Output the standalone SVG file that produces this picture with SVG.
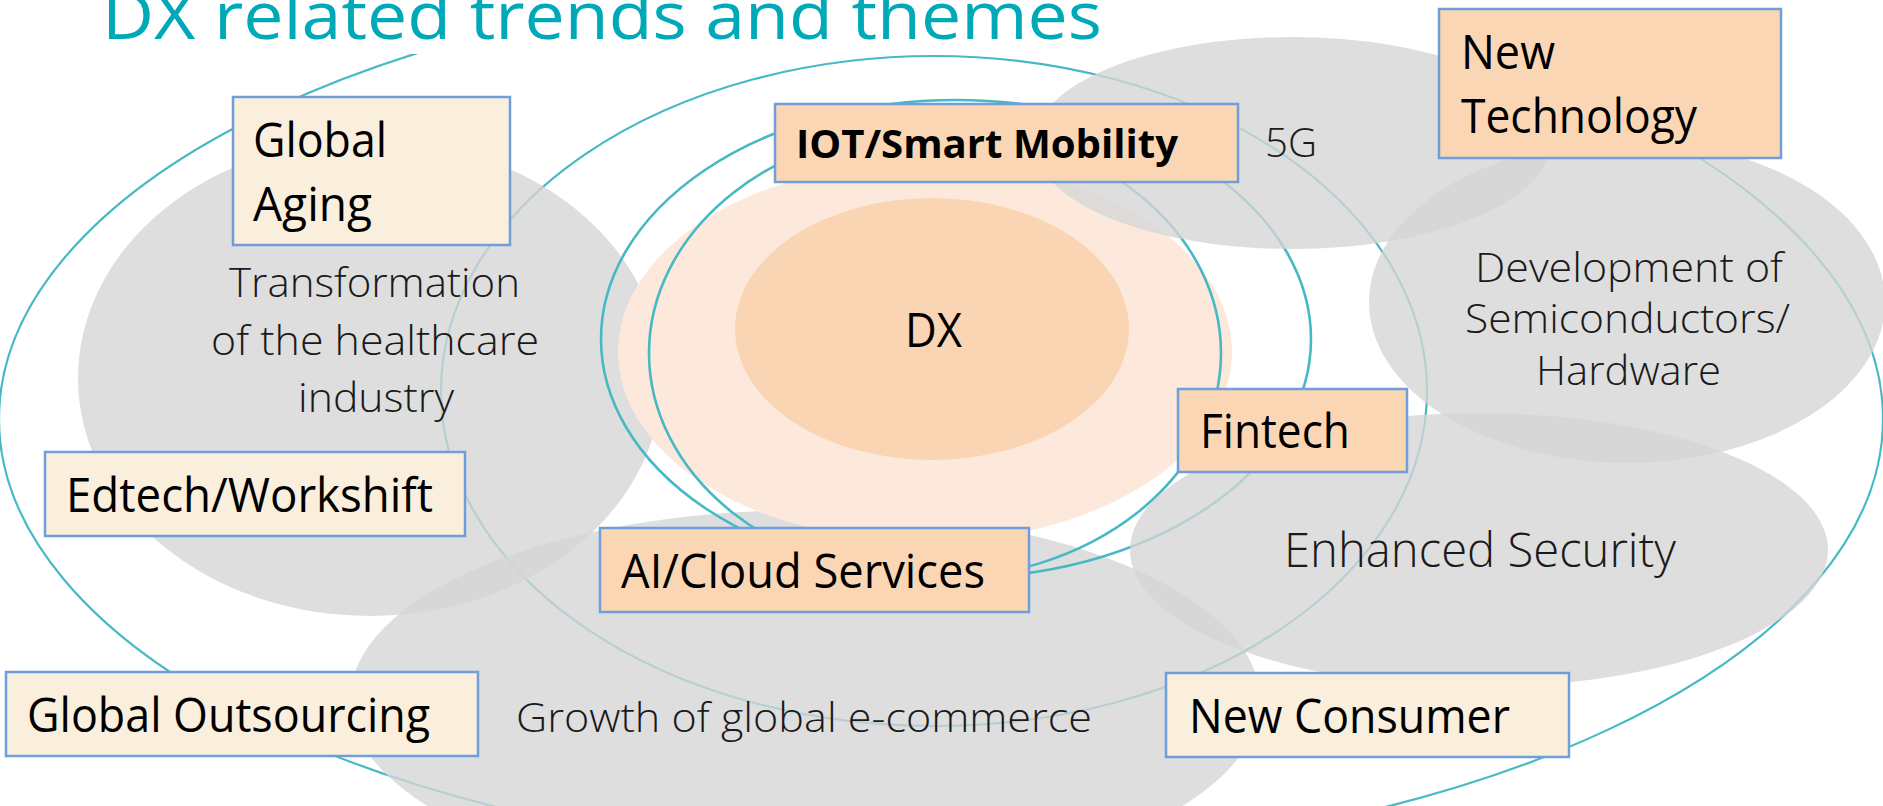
<svg xmlns="http://www.w3.org/2000/svg" width="1883" height="806" viewBox="0 0 1883 806">
  <style>
    .ring { fill: none; stroke: #46B9C4; stroke-width: 2.2; }
    .ring-in { fill: none; stroke: #46B9C4; stroke-width: 2.6; }
    .cloud { fill: #D5D5D5; fill-opacity: 0.79; }
    .box-peach { fill: #FBD6B5; stroke: #6E9FDA; stroke-width: 2.5; }
    .box-beige { fill: #FAEEDC; stroke: #6E9FDA; stroke-width: 2.5; }
    .lbl { font-family: "Open Sans", "Liberation Sans", sans-serif; font-size: 48px; fill: #000; }
    .lbl-b { font-family: "Open Sans", "Liberation Sans", sans-serif; font-size: 40px; font-weight: 700; fill: #000; }
    .lite { font-family: "Open Sans", "Liberation Sans", sans-serif; font-size: 41px; font-weight: 300; fill: #1A1A1A; }
    .title { font-family: "Open Sans", "Liberation Sans", sans-serif; font-size: 66px; fill: #00A9B8; }
  </style>
  <defs>
    <clipPath id="topcut"><rect x="0" y="54" width="1883" height="760"/></clipPath>
  </defs>
  <rect x="0" y="0" width="1883" height="806" fill="#FFFFFF"/>

  <g id="connectors-outer">
    <ellipse class="ring" cx="941" cy="419" rx="942" ry="440" clip-path="url(#topcut)"/>
    <ellipse class="ring" cx="934" cy="391" rx="493" ry="335"/>
  </g>

  <g id="healthcare">
    <ellipse class="cloud" cx="370" cy="378" rx="292" ry="238"/>
    <text class="lite" x="229" y="297" textLength="291" lengthAdjust="spacingAndGlyphs">Transformation</text>
    <text class="lite" x="211" y="355" textLength="328" lengthAdjust="spacingAndGlyphs">of the healthcare</text>
    <text class="lite" x="298" y="412" textLength="156" lengthAdjust="spacingAndGlyphs">industry</text>
  </g>

  <g id="ecommerce">
    <ellipse class="cloud" cx="805" cy="700" rx="455" ry="190"/>
    <text class="lite" x="516" y="732" textLength="576" lengthAdjust="spacingAndGlyphs">Growth of global e-commerce</text>
  </g>

  <g id="dx">
    <ellipse cx="925" cy="352" rx="307" ry="190" fill="#FCE9DB"/>
    <ellipse cx="932" cy="329" rx="197" ry="131" fill="#FAD5B4"/>
    <text class="lbl" x="905" y="347" textLength="57" lengthAdjust="spacingAndGlyphs">DX</text>
  </g>

  <g id="connectors">
    <ellipse class="ring-in" cx="956" cy="339" rx="355" ry="239"/>
    <ellipse class="ring-in" cx="935" cy="353" rx="286" ry="226"/>
  </g>

  <g id="fiveg">
    <ellipse class="cloud" cx="1292" cy="143" rx="258" ry="106"/>
    <text class="lite" x="1265" y="157" textLength="52" lengthAdjust="spacingAndGlyphs">5G</text>
  </g>

  <g id="semiconductors">
    <ellipse class="cloud" cx="1627" cy="302" rx="258" ry="161"/>
    <text class="lite" x="1475" y="282" textLength="308" lengthAdjust="spacingAndGlyphs">Development of</text>
    <text class="lite" x="1465" y="333" textLength="325" lengthAdjust="spacingAndGlyphs">Semiconductors/</text>
    <text class="lite" x="1536" y="385" textLength="185" lengthAdjust="spacingAndGlyphs">Hardware</text>
  </g>

  <g id="security">
    <ellipse class="cloud" cx="1479" cy="550" rx="349" ry="137"/>
    <text class="lite" x="1284" y="567" style="font-size:48px" textLength="392" lengthAdjust="spacingAndGlyphs">Enhanced Security</text>
  </g>

  <g id="global-aging">
    <rect class="box-beige" x="233" y="97" width="277" height="148"/>
    <text class="lbl" x="253" y="157" textLength="134" lengthAdjust="spacingAndGlyphs">Global</text>
    <text class="lbl" x="253" y="221" textLength="119" lengthAdjust="spacingAndGlyphs">Aging</text>
  </g>

  <g id="iot">
    <rect class="box-peach" x="775" y="104" width="463" height="78"/>
    <text class="lbl-b" x="796" y="158" textLength="382" lengthAdjust="spacingAndGlyphs">IOT/Smart Mobility</text>
  </g>

  <g id="new-technology">
    <rect class="box-peach" x="1439" y="9" width="342" height="149"/>
    <text class="lbl" x="1461" y="69" textLength="94" lengthAdjust="spacingAndGlyphs">New</text>
    <text class="lbl" x="1461" y="133" textLength="236" lengthAdjust="spacingAndGlyphs">Technology</text>
  </g>

  <g id="fintech">
    <rect class="box-peach" x="1178" y="389" width="229" height="83"/>
    <text class="lbl" x="1200" y="448" textLength="150" lengthAdjust="spacingAndGlyphs">Fintech</text>
  </g>

  <g id="ai-cloud">
    <rect class="box-peach" x="600" y="528" width="429" height="84"/>
    <text class="lbl" x="621" y="588" textLength="364" lengthAdjust="spacingAndGlyphs">AI/Cloud Services</text>
  </g>

  <g id="edtech">
    <rect class="box-beige" x="45" y="452" width="420" height="84"/>
    <text class="lbl" x="66" y="512" textLength="367" lengthAdjust="spacingAndGlyphs">Edtech/Workshift</text>
  </g>

  <g id="global-outsourcing">
    <rect class="box-beige" x="6" y="672" width="472" height="84"/>
    <text class="lbl" x="27" y="732" textLength="403" lengthAdjust="spacingAndGlyphs">Global Outsourcing</text>
  </g>

  <g id="new-consumer">
    <rect class="box-beige" x="1166" y="673" width="403" height="84"/>
    <text class="lbl" x="1189" y="733" textLength="321" lengthAdjust="spacingAndGlyphs">New Consumer</text>
  </g>

  <g id="title">
    <text class="title" x="102" y="39" textLength="1000" lengthAdjust="spacingAndGlyphs">DX related trends and themes</text>
  </g>
</svg>
